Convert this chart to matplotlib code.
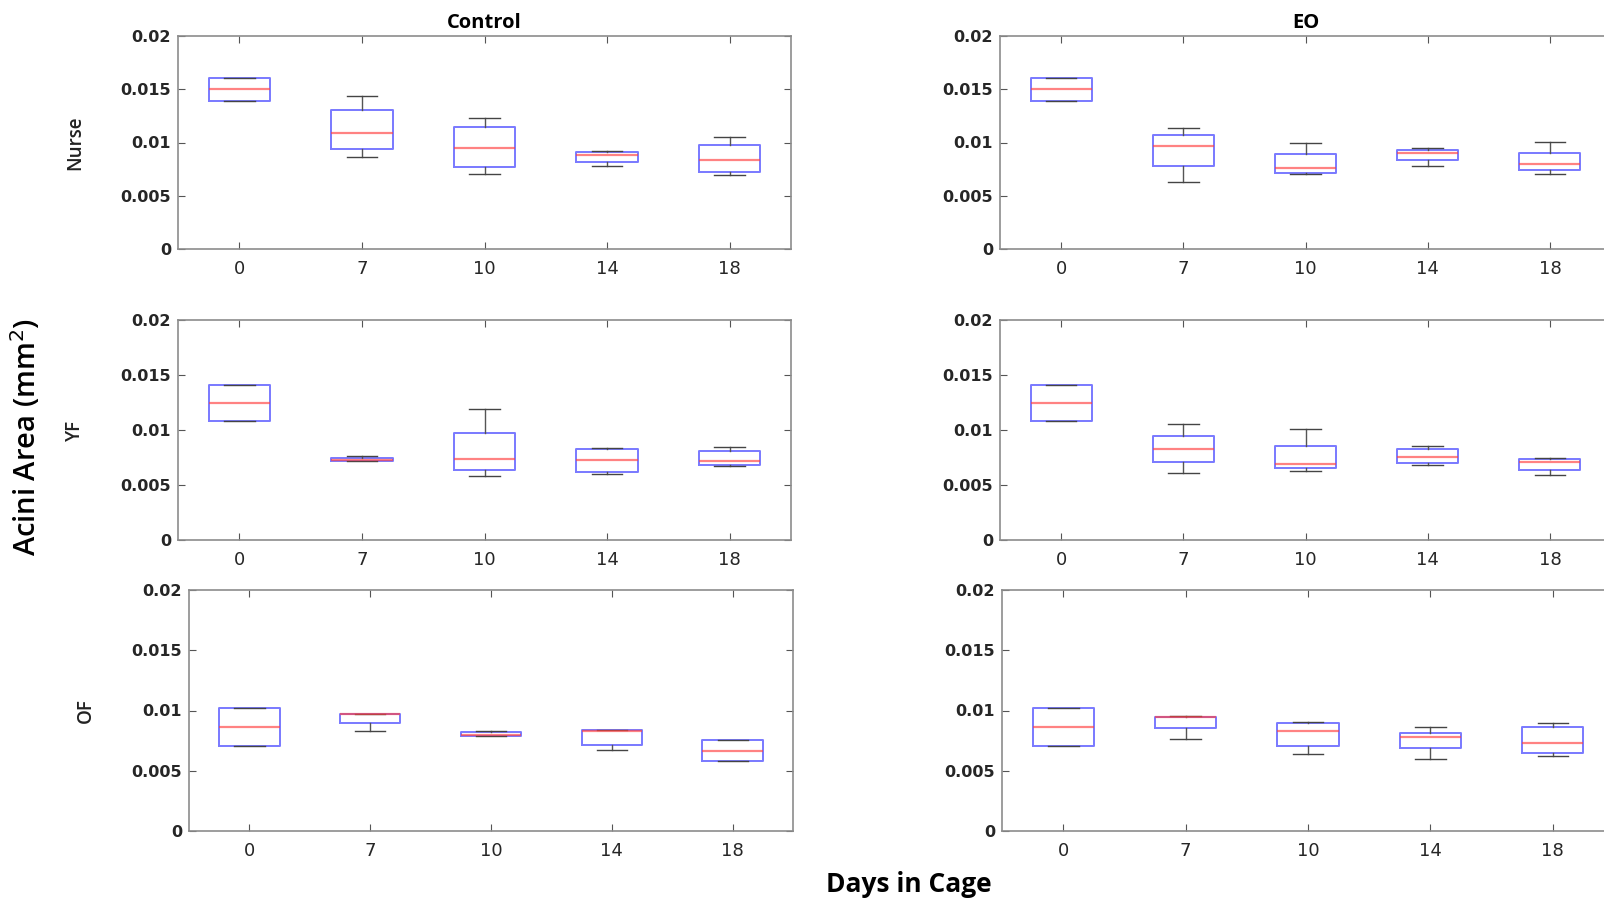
import matplotlib
matplotlib.use("Agg")
from matplotlib import pyplot as plt

days = ['0', '7', '10', '14', '18']
groups = ['Control', 'EO']
rows = ['Nurse', 'YF', 'OF']

# box stats per panel: whislo, q1, median, q3, whishi (mm^2), one entry per day
ctrl_nurse_lo  = [0.01388, 0.00866, 0.00703, 0.00778, 0.00691]
ctrl_nurse_q1  = [0.01388, 0.00941, 0.00769, 0.00819, 0.00719]
ctrl_nurse_med = [0.01500, 0.01091, 0.00947, 0.00884, 0.00831]
ctrl_nurse_q3  = [0.01609, 0.01303, 0.01147, 0.00909, 0.00981]
ctrl_nurse_hi  = [0.01609, 0.01441, 0.01231, 0.00919, 0.01056]

eo_nurse_lo  = [0.01388, 0.00628, 0.00703, 0.00775, 0.00703]
eo_nurse_q1  = [0.01388, 0.00784, 0.00713, 0.00834, 0.00738]
eo_nurse_med = [0.01500, 0.00966, 0.00759, 0.00900, 0.00794]
eo_nurse_q3  = [0.01609, 0.01066, 0.00891, 0.00928, 0.00906]
eo_nurse_hi  = [0.01609, 0.01138, 0.00991, 0.00953, 0.01009]

ctrl_yf_lo  = [0.01081, 0.00717, 0.00581, 0.00599, 0.00675]
ctrl_yf_q1  = [0.01081, 0.00717, 0.00636, 0.00620, 0.00684]
ctrl_yf_med = [0.01247, 0.00729, 0.00735, 0.00729, 0.00717]
ctrl_yf_q3  = [0.01413, 0.00744, 0.00976, 0.00825, 0.00813]
ctrl_yf_hi  = [0.01413, 0.00762, 0.01187, 0.00834, 0.00843]

eo_yf_lo  = [0.01081, 0.00605, 0.00630, 0.00684, 0.00590]
eo_yf_q1  = [0.01081, 0.00711, 0.00657, 0.00702, 0.00639]
eo_yf_med = [0.01247, 0.00825, 0.00690, 0.00753, 0.00711]
eo_yf_q3  = [0.01413, 0.00943, 0.00852, 0.00825, 0.00735]
eo_yf_hi  = [0.01413, 0.01054, 0.01006, 0.00858, 0.00744]

ctrl_of_lo  = [0.00703, 0.00833, 0.00792, 0.00672, 0.00578]
ctrl_of_q1  = [0.00703, 0.00894, 0.00792, 0.00711, 0.00578]
ctrl_of_med = [0.00861, 0.00967, 0.00794, 0.00828, 0.00667]
ctrl_of_q3  = [0.01017, 0.00972, 0.00822, 0.00836, 0.00756]
ctrl_of_hi  = [0.01017, 0.00975, 0.00831, 0.00839, 0.00756]

eo_of_lo  = [0.00703, 0.00764, 0.00642, 0.00600, 0.00622]
eo_of_q1  = [0.00703, 0.00853, 0.00708, 0.00692, 0.00650]
eo_of_med = [0.00861, 0.00944, 0.00833, 0.00781, 0.00733]
eo_of_q3  = [0.01017, 0.00950, 0.00900, 0.00817, 0.00861]
eo_of_hi  = [0.01017, 0.00956, 0.00908, 0.00861, 0.00900]

panels = [
    [(ctrl_nurse_lo, ctrl_nurse_q1, ctrl_nurse_med, ctrl_nurse_q3, ctrl_nurse_hi),
     (eo_nurse_lo, eo_nurse_q1, eo_nurse_med, eo_nurse_q3, eo_nurse_hi)],
    [(ctrl_yf_lo, ctrl_yf_q1, ctrl_yf_med, ctrl_yf_q3, ctrl_yf_hi),
     (eo_yf_lo, eo_yf_q1, eo_yf_med, eo_yf_q3, eo_yf_hi)],
    [(ctrl_of_lo, ctrl_of_q1, ctrl_of_med, ctrl_of_q3, ctrl_of_hi),
     (eo_of_lo, eo_of_q1, eo_of_med, eo_of_q3, eo_of_hi)],
]

W, H = 1604, 901
# axes rectangles in pixels (left, top, right, bottom); right column runs off the page
rects = [
    [(178, 36, 791, 249), (1000, 36, 1611, 249)],
    [(178, 320, 791, 540), (1000, 320, 1611, 540)],
    [(189, 590, 793, 831), (1002, 590, 1614, 831)],
]
row_label_x = [75, 75, 86]

fig = plt.figure(figsize=(W / 100, H / 100), dpi=100)

for r in range(3):
    for c in range(2):
        l, t, rr, b = rects[r][c]
        ax = fig.add_axes([l / W, 1 - b / H, (rr - l) / W, (b - t) / H])
        lo, q1, med, q3, hi = panels[r][c]
        stats = []
        for i in range(len(days)):
            stats.append({'whislo': lo[i], 'q1': q1[i], 'med': med[i],
                          'q3': q3[i], 'whishi': hi[i], 'label': days[i]})
        ax.bxp(stats, widths=0.5, capwidths=0.25, showfliers=False,
               boxprops=dict(color=(0.3, 0.3, 1.0, 0.75), lw=1.4),
               medianprops=dict(color=(1.0, 0.25, 0.25, 0.65), lw=1.6),
               whiskerprops=dict(color='#555555', lw=1.0),
               capprops=dict(color='#444444', lw=1.0))
        ax.set_xlim(0.5, 5.5)
        ax.set_ylim(0, 0.02)
        ax.set_yticks([0, 0.005, 0.01, 0.015, 0.02])
        ax.set_yticklabels(['0', '0.005', '0.01', '0.015', '0.02'],
                           fontweight='bold')
        ax.tick_params(axis='both', direction='in', top=True, right=True,
                       length=5, color='#555555', labelcolor='#262626')
        ax.tick_params(axis='y', labelsize=11.5, pad=5)
        ax.tick_params(axis='x', labelsize=13, pad=8)
        for s in ax.spines.values():
            s.set_color('#8c8c8c')
            s.set_linewidth(1.2)
        if r == 0:
            ax.set_title(groups[c], fontsize=14.5, fontweight='bold',
                         family='Open Sans', pad=6)
    cy = (rects[r][0][1] + rects[r][0][3]) / 2
    fig.text(row_label_x[r] / W, 1 - cy / H, rows[r], rotation=90,
             ha='center', va='center', fontsize=13.5, fontweight='semibold',
             family='Open Sans', color='#222222')

fig.text(26 / W, 1 - 437 / H, 'Acini Area (mm$^2$)', rotation=90,
         ha='center', va='center', fontsize=21, fontweight='semibold',
         family='Open Sans')
fig.text(909 / W, 1 - 885 / H, 'Days in Cage', ha='center', va='center',
         fontsize=19, fontweight='bold', family='Open Sans')

fig.savefig('out.png', dpi=100)
